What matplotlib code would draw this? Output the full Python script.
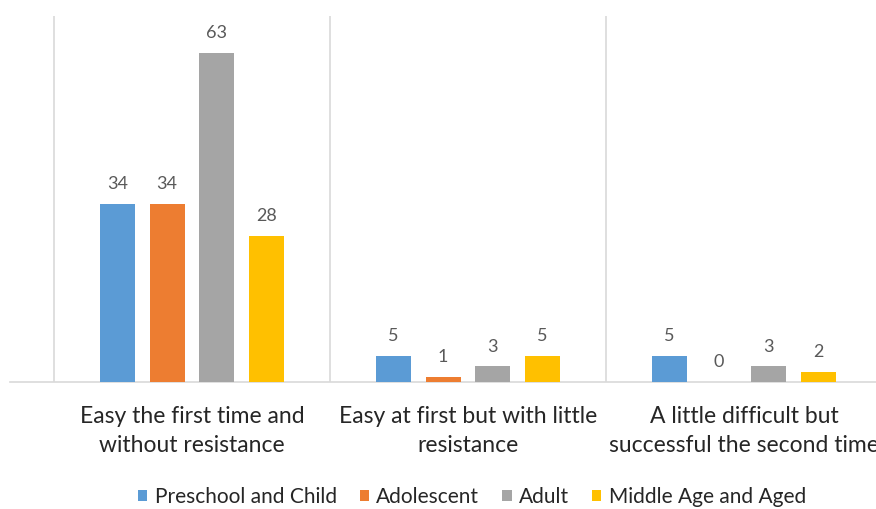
import matplotlib
matplotlib.use("Agg")
import matplotlib.pyplot as plt
import numpy as np

categories = ["Easy the first time and\nwithout resistance",
              "Easy at first but with little\nresistance",
              "A little difficult but\nsuccessful the second time"]
series_names = ["Preschool and Child", "Adolescent", "Adult", "Middle Age and Aged"]
values = {
    "Preschool and Child": [34, 5, 5],
    "Adolescent": [34, 1, 0],
    "Adult": [63, 3, 3],
    "Middle Age and Aged": [28, 5, 2],
}
colors = ["#5B9BD5", "#ED7D31", "#A5A5A5", "#FFC000"]

plt.rcParams["font.family"] = ["Lato", "DejaVu Sans"]

W, H = 876, 509
fig = plt.figure(figsize=(W / 100, H / 100), dpi=100)

# axes: left edge at 10px, baseline at 382px, top at 16px; extends past the right edge
x0_px, base_px, top_px = 10, 382, 16
unit_px = 276
cat0_px = 192
xmin = (x0_px - cat0_px) / unit_px
xmax = xmin + 3.3
ax = fig.add_axes([x0_px / W, 1 - base_px / H, 3.3 * unit_px / W, (base_px - top_px) / H])
ax.set_xlim(xmin, xmax)
ax.set_ylim(0, 70)

x = np.arange(len(categories))
pitch = 49.7 / unit_px
bw = 35 / unit_px
for i, (name, c) in enumerate(zip(series_names, colors)):
    pos = x + (i - 1.5) * pitch
    bars = ax.bar(pos, values[name], width=bw, color=c, label=name, zorder=3)
    for b, v in zip(bars, values[name]):
        ax.annotate(str(v), (b.get_x() + b.get_width() / 2, v),
                    xytext=(0, 8.5), textcoords="offset points",
                    ha="center", va="bottom", fontsize=13, color="#595959")

# separators between categories
for b in np.arange(-0.5, len(categories) + 0.5, 1):
    ax.axvline(b, color="#D9D9D9", lw=1.2, zorder=1)

for s in ["top", "right", "left"]:
    ax.spines[s].set_visible(False)
ax.spines["bottom"].set_color("#D9D9D9")
ax.spines["bottom"].set_linewidth(1.2)
ax.set_yticks([])
ax.set_xticks(x)
ax.set_xticklabels(categories, fontsize=16.5, color="#262626", linespacing=1.5)
ax.tick_params(axis="x", length=0, pad=17)

fig.legend(loc="center", bbox_to_anchor=(472 / W, 1 - 497 / H), ncol=4,
           frameon=False, fontsize=15, handlelength=0.45, handleheight=0.45,
           handletextpad=0.35, columnspacing=1.1, labelcolor="#262626")

fig.savefig("out.png", dpi=100)
